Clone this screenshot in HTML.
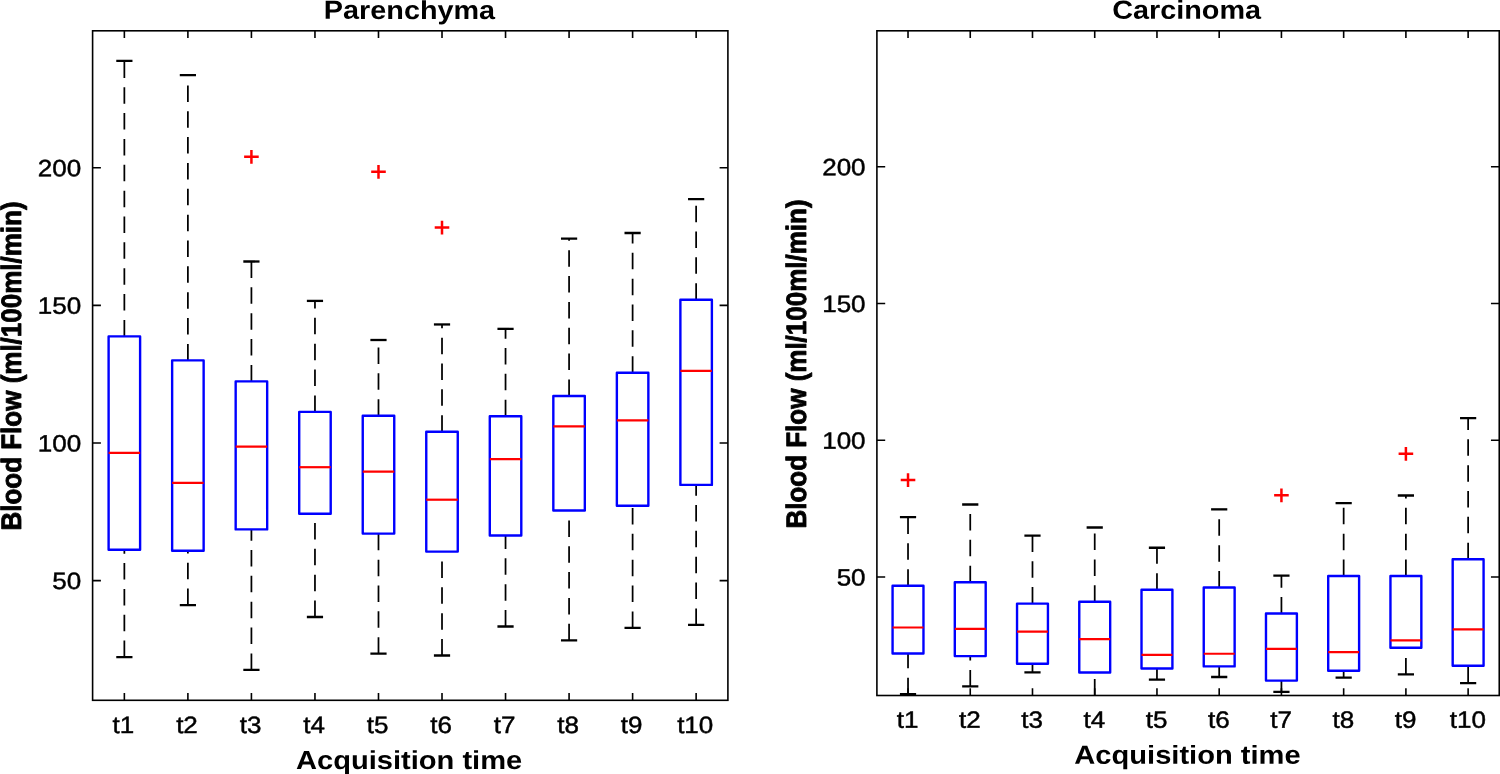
<!DOCTYPE html>
<html lang="en">
<head>
<meta charset="utf-8">
<title>Blood Flow boxplots: Parenchyma and Carcinoma</title>
<style>
html,body{margin:0;padding:0;background:#fff;}
body{width:1500px;height:774px;overflow:hidden;}
svg{display:block;}
text{font-family:"Liberation Sans", Arial, Helvetica, sans-serif;fill:#000;text-rendering:geometricPrecision;}
.tl{font-size:23.6px;stroke:#000;stroke-width:0.45px;}
.bl{font-size:26.0px;font-weight:bold;}
.yl{stroke:#000;stroke-width:0.8px;stroke-linejoin:round;}
.ax{fill:none;stroke:#000;stroke-width:1.6;}
.tk{fill:none;stroke:#000;stroke-width:1.6;}
.bx{fill:none;stroke:#0000ff;stroke-width:2.4;stroke-linejoin:round;}
.md{stroke:#ff0000;stroke-width:2.2;}
.wh{stroke:#000;stroke-width:1.75;stroke-dasharray:16.5 9.35;}
.cap{stroke:#000;stroke-width:2.3;}
.ol{fill:none;stroke:#ff0000;stroke-width:2.5;}
</style>
</head>
<body>
<svg width="1500" height="774" viewBox="0 0 1500 774">
<rect x="0" y="0" width="1500" height="774" fill="#ffffff"/>
<g id="parenchyma">
<clipPath id="clip1"><rect x="92.6" y="30.8" width="635.3" height="669.5"/></clipPath>
<g clip-path="url(#clip1)"><line class="wh" x1="124.36" y1="336.4" x2="124.36" y2="60.8"/><line class="wh" x1="124.36" y1="657.1" x2="124.36" y2="549.7"/><line class="cap" x1="116.27" y1="60.8" x2="132.47" y2="60.8"/><line class="cap" x1="116.27" y1="657.1" x2="132.47" y2="657.1"/><rect class="bx" x="108.61" y="336.4" width="31.5" height="213.3"/><line class="md" x1="108.61" y1="452.9" x2="140.12" y2="452.9"/><line class="wh" x1="187.89" y1="360.4" x2="187.89" y2="75.2"/><line class="wh" x1="187.89" y1="605.1" x2="187.89" y2="550.7"/><line class="cap" x1="179.79" y1="75.2" x2="195.99" y2="75.2"/><line class="cap" x1="179.79" y1="605.1" x2="195.99" y2="605.1"/><rect class="bx" x="172.14" y="360.4" width="31.5" height="190.3"/><line class="md" x1="172.14" y1="482.8" x2="203.64" y2="482.8"/><line class="wh" x1="251.42" y1="381.4" x2="251.42" y2="261.5"/><line class="wh" x1="251.42" y1="669.9" x2="251.42" y2="529.4"/><line class="cap" x1="243.32" y1="261.5" x2="259.52" y2="261.5"/><line class="cap" x1="243.32" y1="669.9" x2="259.52" y2="669.9"/><rect class="bx" x="235.67" y="381.4" width="31.5" height="148"/><line class="md" x1="235.67" y1="446.7" x2="267.17" y2="446.7"/><path class="ol" d="M244.12 156.8H258.72M251.42 150.05V163.85"/><line class="wh" x1="314.96" y1="411.9" x2="314.96" y2="300.9"/><line class="wh" x1="314.96" y1="617" x2="314.96" y2="513.8"/><line class="cap" x1="306.86" y1="300.9" x2="323.06" y2="300.9"/><line class="cap" x1="306.86" y1="617" x2="323.06" y2="617"/><rect class="bx" x="299.21" y="411.9" width="31.5" height="101.9"/><line class="md" x1="299.21" y1="467.2" x2="330.71" y2="467.2"/><line class="wh" x1="378.49" y1="415.7" x2="378.49" y2="340"/><line class="wh" x1="378.49" y1="653.7" x2="378.49" y2="533.6"/><line class="cap" x1="370.38" y1="340" x2="386.59" y2="340"/><line class="cap" x1="370.38" y1="653.7" x2="386.59" y2="653.7"/><rect class="bx" x="362.74" y="415.7" width="31.5" height="117.9"/><line class="md" x1="362.74" y1="471.6" x2="394.24" y2="471.6"/><path class="ol" d="M371.19 171.8H385.79M378.49 165.05V178.85"/><line class="wh" x1="442.01" y1="431.7" x2="442.01" y2="324.45"/><line class="wh" x1="442.01" y1="655.5" x2="442.01" y2="551.6"/><line class="cap" x1="433.91" y1="324.45" x2="450.12" y2="324.45"/><line class="cap" x1="433.91" y1="655.5" x2="450.12" y2="655.5"/><rect class="bx" x="426.26" y="431.7" width="31.5" height="119.9"/><line class="md" x1="426.26" y1="499.7" x2="457.76" y2="499.7"/><path class="ol" d="M434.71 227.5H449.31M442.01 220.75V234.55"/><line class="wh" x1="505.54" y1="416.2" x2="505.54" y2="328.85"/><line class="wh" x1="505.54" y1="626.5" x2="505.54" y2="535.5"/><line class="cap" x1="497.44" y1="328.85" x2="513.64" y2="328.85"/><line class="cap" x1="497.44" y1="626.5" x2="513.64" y2="626.5"/><rect class="bx" x="489.79" y="416.2" width="31.5" height="119.3"/><line class="md" x1="489.79" y1="459.2" x2="521.29" y2="459.2"/><line class="wh" x1="569.08" y1="395.95" x2="569.08" y2="238.6"/><line class="wh" x1="569.08" y1="640.3" x2="569.08" y2="510.5"/><line class="cap" x1="560.98" y1="238.6" x2="577.18" y2="238.6"/><line class="cap" x1="560.98" y1="640.3" x2="577.18" y2="640.3"/><rect class="bx" x="553.33" y="395.95" width="31.5" height="114.55"/><line class="md" x1="553.33" y1="426.4" x2="584.83" y2="426.4"/><line class="wh" x1="632.61" y1="372.7" x2="632.61" y2="233"/><line class="wh" x1="632.61" y1="627.9" x2="632.61" y2="505.7"/><line class="cap" x1="624.5" y1="233" x2="640.71" y2="233"/><line class="cap" x1="624.5" y1="627.9" x2="640.71" y2="627.9"/><rect class="bx" x="616.86" y="372.7" width="31.5" height="133"/><line class="md" x1="616.86" y1="420.4" x2="648.36" y2="420.4"/><line class="wh" x1="696.13" y1="299.7" x2="696.13" y2="199.05"/><line class="wh" x1="696.13" y1="624.9" x2="696.13" y2="484.9"/><line class="cap" x1="688.03" y1="199.05" x2="704.24" y2="199.05"/><line class="cap" x1="688.03" y1="624.9" x2="704.24" y2="624.9"/><rect class="bx" x="680.38" y="299.7" width="31.5" height="185.2"/><line class="md" x1="680.38" y1="370.9" x2="711.88" y2="370.9"/></g>
<path class="tk" d="M124.36 700.3v-7.2M124.36 30.8v7.2M187.89 700.3v-7.2M187.89 30.8v7.2M251.42 700.3v-7.2M251.42 30.8v7.2M314.96 700.3v-7.2M314.96 30.8v7.2M378.49 700.3v-7.2M378.49 30.8v7.2M442.01 700.3v-7.2M442.01 30.8v7.2M505.54 700.3v-7.2M505.54 30.8v7.2M569.08 700.3v-7.2M569.08 30.8v7.2M632.61 700.3v-7.2M632.61 30.8v7.2M696.13 700.3v-7.2M696.13 30.8v7.2M92.6 167.8h8.3M727.9 167.8h-8.3M92.6 305.4h8.3M727.9 305.4h-8.3M92.6 443h8.3M727.9 443h-8.3M92.6 580.6h8.3M727.9 580.6h-8.3"/>
<rect class="ax" x="92.6" y="30.8" width="635.3" height="669.5"/>
<text class="tl" text-anchor="middle" transform="translate(123.46 732.9) scale(1.103 1) rotate(0.03)">t1</text>
<text class="tl" text-anchor="middle" transform="translate(186.99 732.9) scale(1.103 1) rotate(0.03)">t2</text>
<text class="tl" text-anchor="middle" transform="translate(250.52 732.9) scale(1.103 1) rotate(0.03)">t3</text>
<text class="tl" text-anchor="middle" transform="translate(314.06 732.9) scale(1.103 1) rotate(0.03)">t4</text>
<text class="tl" text-anchor="middle" transform="translate(377.59 732.9) scale(1.103 1) rotate(0.03)">t5</text>
<text class="tl" text-anchor="middle" transform="translate(441.12 732.9) scale(1.103 1) rotate(0.03)">t6</text>
<text class="tl" text-anchor="middle" transform="translate(504.64 732.9) scale(1.103 1) rotate(0.03)">t7</text>
<text class="tl" text-anchor="middle" transform="translate(568.18 732.9) scale(1.103 1) rotate(0.03)">t8</text>
<text class="tl" text-anchor="middle" transform="translate(631.71 732.9) scale(1.103 1) rotate(0.03)">t9</text>
<text class="tl" text-anchor="middle" transform="translate(695.24 732.9) scale(1.103 1) rotate(0.03)">t10</text>
<text class="tl" text-anchor="end" transform="translate(81.2 176.2) scale(1.103 1) rotate(0.03)">200</text>
<text class="tl" text-anchor="end" transform="translate(81.2 313.8) scale(1.103 1) rotate(0.03)">150</text>
<text class="tl" text-anchor="end" transform="translate(81.2 451.4) scale(1.103 1) rotate(0.03)">100</text>
<text class="tl" text-anchor="end" transform="translate(81.2 589) scale(1.103 1) rotate(0.03)">50</text>
<text class="bl" text-anchor="middle" transform="translate(409.5 18.9) scale(1.1076 1) rotate(0.03)">Parenchyma</text>
<text class="bl" text-anchor="middle" transform="translate(409.1 769) scale(1.1188 1) rotate(0.03)">Acquisition time</text>
<text class="bl yl" text-anchor="middle" transform="translate(20.5 366) scale(1.08 0.9995) rotate(-90)">Blood Flow (ml/100ml/min)</text>
</g>
<g id="carcinoma">
<clipPath id="clip2"><rect x="876.9" y="30.8" width="622.35" height="664.7"/></clipPath>
<g clip-path="url(#clip2)"><line class="wh" x1="908.02" y1="585.7" x2="908.02" y2="517.1"/><line class="wh" x1="908.02" y1="694.2" x2="908.02" y2="653.5"/><line class="cap" x1="899.92" y1="517.1" x2="916.12" y2="517.1"/><line class="cap" x1="899.92" y1="694.2" x2="916.12" y2="694.2"/><rect class="bx" x="892.57" y="585.7" width="30.9" height="67.8"/><line class="md" x1="892.57" y1="627.5" x2="923.47" y2="627.5"/><path class="ol" d="M900.72 480.05H915.32M908.02 473.3V487.1"/><line class="wh" x1="970.25" y1="582.2" x2="970.25" y2="504.5"/><line class="wh" x1="970.25" y1="686.4" x2="970.25" y2="656.1"/><line class="cap" x1="962.15" y1="504.5" x2="978.35" y2="504.5"/><line class="cap" x1="962.15" y1="686.4" x2="978.35" y2="686.4"/><rect class="bx" x="954.8" y="582.2" width="30.9" height="73.9"/><line class="md" x1="954.8" y1="628.9" x2="985.7" y2="628.9"/><line class="wh" x1="1032.49" y1="603.6" x2="1032.49" y2="535.7"/><line class="wh" x1="1032.49" y1="672.3" x2="1032.49" y2="663.7"/><line class="cap" x1="1024.39" y1="535.7" x2="1040.59" y2="535.7"/><line class="cap" x1="1024.39" y1="672.3" x2="1040.59" y2="672.3"/><rect class="bx" x="1017.04" y="603.6" width="30.9" height="60.1"/><line class="md" x1="1017.04" y1="631.7" x2="1047.94" y2="631.7"/><line class="wh" x1="1094.72" y1="601.8" x2="1094.72" y2="527.5"/><line class="wh" x1="1094.72" y1="695.4" x2="1094.72" y2="672.5"/><line class="cap" x1="1086.62" y1="527.5" x2="1102.82" y2="527.5"/><rect class="bx" x="1079.27" y="601.8" width="30.9" height="70.7"/><line class="md" x1="1079.27" y1="639.1" x2="1110.17" y2="639.1"/><line class="wh" x1="1156.96" y1="589.7" x2="1156.96" y2="547.75"/><line class="wh" x1="1156.96" y1="679.7" x2="1156.96" y2="668.5"/><line class="cap" x1="1148.86" y1="547.75" x2="1165.06" y2="547.75"/><line class="cap" x1="1148.86" y1="679.7" x2="1165.06" y2="679.7"/><rect class="bx" x="1141.51" y="589.7" width="30.9" height="78.8"/><line class="md" x1="1141.51" y1="654.9" x2="1172.41" y2="654.9"/><line class="wh" x1="1219.19" y1="587.5" x2="1219.19" y2="509.35"/><line class="wh" x1="1219.19" y1="677" x2="1219.19" y2="666.4"/><line class="cap" x1="1211.09" y1="509.35" x2="1227.29" y2="509.35"/><line class="cap" x1="1211.09" y1="677" x2="1227.29" y2="677"/><rect class="bx" x="1203.74" y="587.5" width="30.9" height="78.9"/><line class="md" x1="1203.74" y1="653.75" x2="1234.64" y2="653.75"/><line class="wh" x1="1281.43" y1="613.5" x2="1281.43" y2="575.6"/><line class="wh" x1="1281.43" y1="691.8" x2="1281.43" y2="680.6"/><line class="cap" x1="1273.33" y1="575.6" x2="1289.53" y2="575.6"/><line class="cap" x1="1273.33" y1="691.8" x2="1289.53" y2="691.8"/><rect class="bx" x="1265.98" y="613.5" width="30.9" height="67.1"/><line class="md" x1="1265.98" y1="648.9" x2="1296.88" y2="648.9"/><path class="ol" d="M1274.13 495.3H1288.73M1281.43 488.55V502.35"/><line class="wh" x1="1343.66" y1="576" x2="1343.66" y2="503.1"/><line class="wh" x1="1343.66" y1="677.6" x2="1343.66" y2="670.8"/><line class="cap" x1="1335.56" y1="503.1" x2="1351.76" y2="503.1"/><line class="cap" x1="1335.56" y1="677.6" x2="1351.76" y2="677.6"/><rect class="bx" x="1328.21" y="576" width="30.9" height="94.8"/><line class="md" x1="1328.21" y1="652.1" x2="1359.11" y2="652.1"/><line class="wh" x1="1405.9" y1="576" x2="1405.9" y2="495.5"/><line class="wh" x1="1405.9" y1="674.4" x2="1405.9" y2="647.7"/><line class="cap" x1="1397.8" y1="495.5" x2="1414" y2="495.5"/><line class="cap" x1="1397.8" y1="674.4" x2="1414" y2="674.4"/><rect class="bx" x="1390.45" y="576" width="30.9" height="71.7"/><line class="md" x1="1390.45" y1="640.3" x2="1421.35" y2="640.3"/><path class="ol" d="M1398.6 453.7H1413.2M1405.9 446.95V460.75"/><line class="wh" x1="1468.13" y1="559.2" x2="1468.13" y2="418.2"/><line class="wh" x1="1468.13" y1="683.2" x2="1468.13" y2="665.8"/><line class="cap" x1="1460.03" y1="418.2" x2="1476.23" y2="418.2"/><line class="cap" x1="1460.03" y1="683.2" x2="1476.23" y2="683.2"/><rect class="bx" x="1452.68" y="559.2" width="30.9" height="106.6"/><line class="md" x1="1452.68" y1="629.3" x2="1483.58" y2="629.3"/></g>
<path class="tk" d="M908.02 695.5v-7.2M908.02 30.8v7.2M970.25 695.5v-7.2M970.25 30.8v7.2M1032.49 695.5v-7.2M1032.49 30.8v7.2M1094.72 695.5v-7.2M1094.72 30.8v7.2M1156.96 695.5v-7.2M1156.96 30.8v7.2M1219.19 695.5v-7.2M1219.19 30.8v7.2M1281.43 695.5v-7.2M1281.43 30.8v7.2M1343.66 695.5v-7.2M1343.66 30.8v7.2M1405.9 695.5v-7.2M1405.9 30.8v7.2M1468.13 695.5v-7.2M1468.13 30.8v7.2M876.9 166.8h8.3M1499.25 166.8h-8.3M876.9 303.5h8.3M1499.25 303.5h-8.3M876.9 440.3h8.3M1499.25 440.3h-8.3M876.9 577h8.3M1499.25 577h-8.3"/>
<rect class="ax" x="876.9" y="30.8" width="622.35" height="664.7"/>
<text class="tl" text-anchor="middle" transform="translate(907.72 727.75) scale(1.103 1) rotate(0.03)">t1</text>
<text class="tl" text-anchor="middle" transform="translate(969.95 727.75) scale(1.103 1) rotate(0.03)">t2</text>
<text class="tl" text-anchor="middle" transform="translate(1032.19 727.75) scale(1.103 1) rotate(0.03)">t3</text>
<text class="tl" text-anchor="middle" transform="translate(1094.42 727.75) scale(1.103 1) rotate(0.03)">t4</text>
<text class="tl" text-anchor="middle" transform="translate(1156.66 727.75) scale(1.103 1) rotate(0.03)">t5</text>
<text class="tl" text-anchor="middle" transform="translate(1218.89 727.75) scale(1.103 1) rotate(0.03)">t6</text>
<text class="tl" text-anchor="middle" transform="translate(1281.13 727.75) scale(1.103 1) rotate(0.03)">t7</text>
<text class="tl" text-anchor="middle" transform="translate(1343.36 727.75) scale(1.103 1) rotate(0.03)">t8</text>
<text class="tl" text-anchor="middle" transform="translate(1405.6 727.75) scale(1.103 1) rotate(0.03)">t9</text>
<text class="tl" text-anchor="middle" transform="translate(1467.83 727.75) scale(1.103 1) rotate(0.03)">t10</text>
<text class="tl" text-anchor="end" transform="translate(865.6 175.2) scale(1.103 1) rotate(0.03)">200</text>
<text class="tl" text-anchor="end" transform="translate(865.6 311.9) scale(1.103 1) rotate(0.03)">150</text>
<text class="tl" text-anchor="end" transform="translate(865.6 448.7) scale(1.103 1) rotate(0.03)">100</text>
<text class="tl" text-anchor="end" transform="translate(865.6 585.4) scale(1.103 1) rotate(0.03)">50</text>
<text class="bl" text-anchor="middle" transform="translate(1186.6 18.7) scale(1.1076 1) rotate(0.03)">Carcinoma</text>
<text class="bl" text-anchor="middle" transform="translate(1187.5 763.7) scale(1.1188 1) rotate(0.03)">Acquisition time</text>
<text class="bl yl" text-anchor="middle" transform="translate(806.4 364) scale(1.08 0.9995) rotate(-90)">Blood Flow (ml/100ml/min)</text>
</g>
</svg>
</body>
</html>
